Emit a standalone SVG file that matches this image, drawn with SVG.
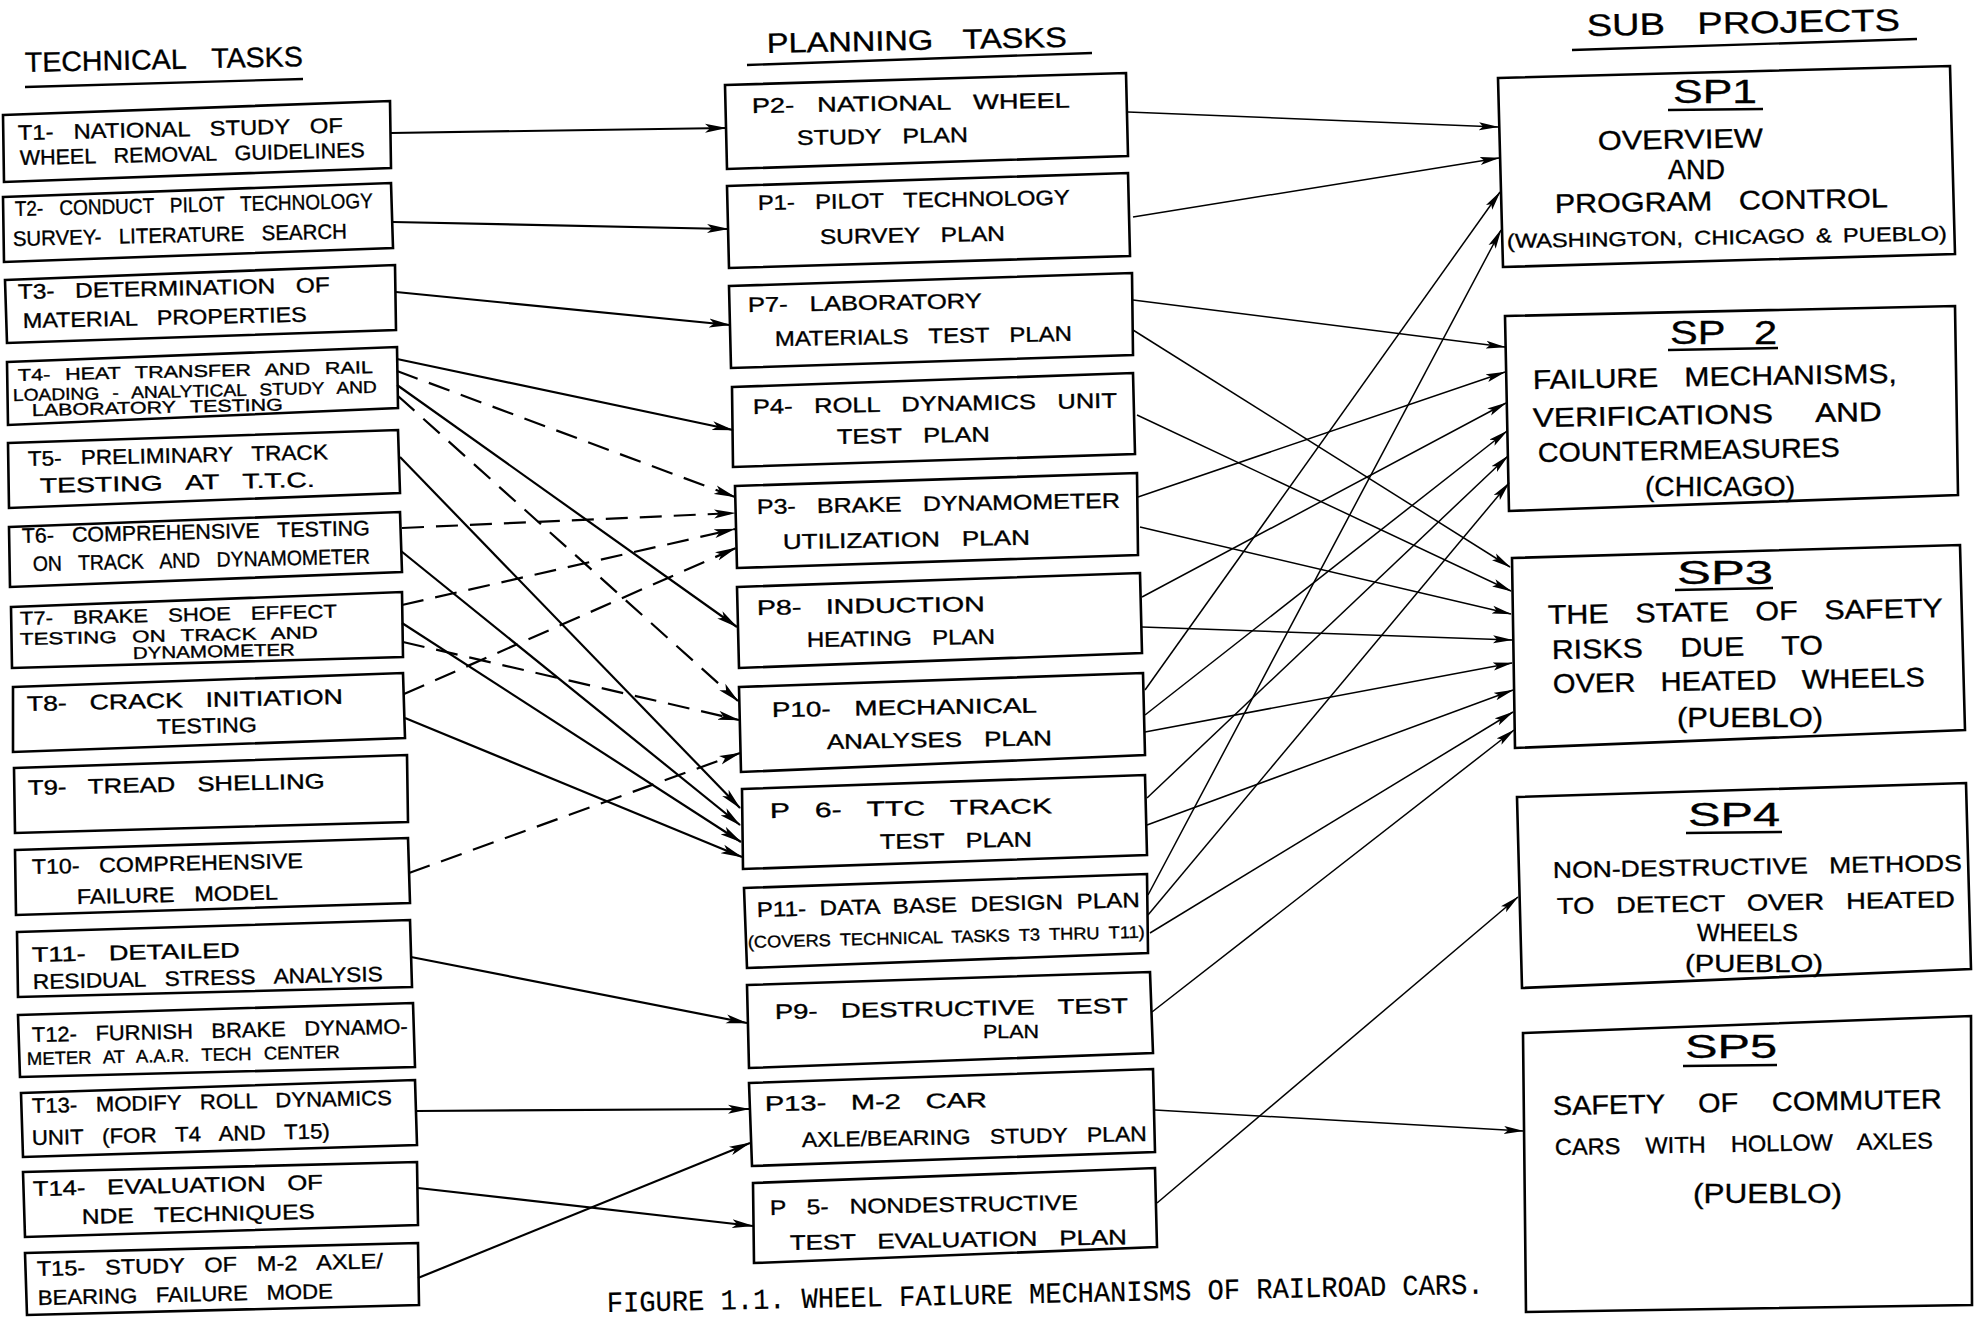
<svg xmlns="http://www.w3.org/2000/svg" width="1975" height="1322" viewBox="0 0 1975 1322">
<defs>
<style>
.bx{fill:none;stroke:#000;stroke-width:2.6;stroke-linejoin:miter}
text{fill:#000;stroke:#000;stroke-width:0.35}
.t{font-family:"Liberation Sans",Arial,sans-serif;font-size:21px;word-spacing:12px}
.ts{font-family:"Liberation Sans",Arial,sans-serif;font-size:17px;word-spacing:7px}
.hd{font-family:"Liberation Sans",Arial,sans-serif;font-size:28px;word-spacing:18px}
.sp{font-family:"Liberation Sans",Arial,sans-serif;font-size:33px}
.sb{font-family:"Liberation Sans",Arial,sans-serif;font-size:27px;word-spacing:16px}
.sm{font-family:"Liberation Sans",Arial,sans-serif;font-size:23px;word-spacing:12px}
.ul{stroke:#000;stroke-width:2.4;fill:none}
.cl{stroke:#000;stroke-width:2.2;fill:none;marker-end:url(#ah)}
.cd{stroke:#000;stroke-width:2.2;fill:none;stroke-dasharray:22 12;marker-end:url(#ah)}
.cr{stroke:#000;stroke-width:1.5;fill:none;marker-end:url(#ah2)}
.cap{font-family:"Liberation Mono","Courier New",monospace;font-size:29px;stroke-width:0.2}
</style>
<marker id="ah" markerUnits="userSpaceOnUse" markerWidth="22" markerHeight="10" viewBox="0 0 22 10" refX="21" refY="5" orient="auto">
<path d="M0,0.5 L22,5 L0,9.5 L5,5 z" fill="#000"/>
</marker>
<marker id="ah2" markerUnits="userSpaceOnUse" markerWidth="20" markerHeight="9" viewBox="0 0 20 9" refX="19" refY="4.5" orient="auto">
<path d="M0,0.5 L20,4.5 L0,8.5 L4,4.5 z" fill="#000"/>
</marker>
</defs>
<rect width="1975" height="1322" fill="#fff"/>

<g id="headings">
<text class="hd" x="25" y="72" textLength="278" lengthAdjust="spacingAndGlyphs" transform="rotate(-1.2 25 72)">TECHNICAL TASKS</text>
<path class="ul" d="M25,87 L303,79"/>
<text class="hd" x="767" y="53" textLength="300" lengthAdjust="spacingAndGlyphs" transform="rotate(-1.2 767 53)">PLANNING TASKS</text>
<path class="ul" d="M747,65 L1092,53"/>
<text class="hd" x="1587" y="36" textLength="313" lengthAdjust="spacingAndGlyphs" style="font-size:31px" transform="rotate(-1 1587 36)">SUB PROJECTS</text>
<path class="ul" d="M1572,50 L1917,39"/>
</g>

<g id="T1"><polygon class="bx" points="3,115 390,101 391,168 4,182"/>
<text class="t" x="18" y="140" textLength="325" lengthAdjust="spacingAndGlyphs" transform="rotate(-1.3 18 140)">T1- NATIONAL STUDY OF</text>
<text class="t" x="20" y="165" textLength="345" lengthAdjust="spacingAndGlyphs" transform="rotate(-1.3 20 165)">WHEEL REMOVAL GUIDELINES</text></g>
<g id="T2"><polygon class="bx" points="3,197 391,183 393,248 4,262"/>
<text class="t" x="15" y="216" textLength="358" lengthAdjust="spacingAndGlyphs" transform="rotate(-1.3 15 216)">T2- CONDUCT PILOT TECHNOLOGY</text>
<text class="t" x="13" y="246" textLength="334" lengthAdjust="spacingAndGlyphs" transform="rotate(-1.3 13 246)">SURVEY- LITERATURE SEARCH</text></g>
<g id="T3"><polygon class="bx" points="5,280 395,265 396,330 7,343"/>
<text class="t" x="18" y="299" textLength="312" lengthAdjust="spacingAndGlyphs" transform="rotate(-1.3 18 299)">T3- DETERMINATION OF</text>
<text class="t" x="23" y="328" textLength="284" lengthAdjust="spacingAndGlyphs" transform="rotate(-1.3 23 328)">MATERIAL PROPERTIES</text></g>
<g id="T4"><polygon class="bx" points="7,362 397,347 398,408 8,425"/>
<text class="ts" x="18" y="381" textLength="355" lengthAdjust="spacingAndGlyphs" transform="rotate(-1.3 18 381)">T4- HEAT TRANSFER AND RAIL</text>
<text class="ts" x="13" y="401" textLength="364" lengthAdjust="spacingAndGlyphs" transform="rotate(-1.3 13 401)">LOADING - ANALYTICAL STUDY AND</text>
<text class="ts" x="32" y="416" textLength="251" lengthAdjust="spacingAndGlyphs" transform="rotate(-1.3 32 416)">LABORATORY TESTING</text></g>
<g id="T5"><polygon class="bx" points="8,443 398,430 400,493 9,508"/>
<text class="t" x="28" y="466" textLength="300" lengthAdjust="spacingAndGlyphs" transform="rotate(-1.3 28 466)">T5- PRELIMINARY TRACK</text>
<text class="t" x="40" y="493" textLength="275" lengthAdjust="spacingAndGlyphs" transform="rotate(-1.3 40 493)">TESTING AT T.T.C.</text></g>
<g id="T6"><polygon class="bx" points="9,527 400,512 402,572 10,587"/>
<text class="t" x="22" y="543" textLength="348" lengthAdjust="spacingAndGlyphs" transform="rotate(-1.3 22 543)">T6- COMPREHENSIVE TESTING</text>
<text class="t" x="33" y="571" textLength="337" lengthAdjust="spacingAndGlyphs" transform="rotate(-1.3 33 571)">ON TRACK AND DYNAMOMETER</text></g>
<g id="T7"><polygon class="bx" points="11,607 402,592 403,657 12,668"/>
<text class="t" x="20" y="625" textLength="317" lengthAdjust="spacingAndGlyphs" style="font-size:19px" transform="rotate(-1.3 20 625)">T7- BRAKE SHOE EFFECT</text>
<text class="ts" x="20" y="645" textLength="298" lengthAdjust="spacingAndGlyphs" transform="rotate(-1.3 20 645)">TESTING ON TRACK AND</text>
<text class="ts" x="133" y="659" textLength="162" lengthAdjust="spacingAndGlyphs" transform="rotate(-1.3 133 659)">DYNAMOMETER</text></g>
<g id="T8"><polygon class="bx" points="13,687 403,673 405,738 13,752"/>
<text class="t" x="27" y="711" textLength="316" lengthAdjust="spacingAndGlyphs" transform="rotate(-1.3 27 711)">T8- CRACK INITIATION</text>
<text class="t" x="157" y="734" textLength="100" lengthAdjust="spacingAndGlyphs" transform="rotate(-1.3 157 734)">TESTING</text></g>
<g id="T9"><polygon class="bx" points="14,768 407,755 408,822 15,833"/>
<text class="t" x="28" y="795" textLength="297" lengthAdjust="spacingAndGlyphs" transform="rotate(-1.3 28 795)">T9- TREAD SHELLING</text></g>
<g id="T10"><polygon class="bx" points="15,850 408,838 410,903 16,915"/>
<text class="t" x="32" y="874" textLength="271" lengthAdjust="spacingAndGlyphs" transform="rotate(-1.3 32 874)">T10- COMPREHENSIVE</text>
<text class="t" x="77" y="904" textLength="201" lengthAdjust="spacingAndGlyphs" transform="rotate(-1.3 77 904)">FAILURE MODEL</text></g>
<g id="T11"><polygon class="bx" points="17,932 410,920 412,987 18,997"/>
<text class="t" x="32" y="962" textLength="208" lengthAdjust="spacingAndGlyphs" transform="rotate(-1.3 32 962)">T11- DETAILED</text>
<text class="t" x="33" y="989" textLength="350" lengthAdjust="spacingAndGlyphs" transform="rotate(-1.3 33 989)">RESIDUAL STRESS ANALYSIS</text></g>
<g id="T12"><polygon class="bx" points="18,1015 413,1003 415,1067 20,1077"/>
<text class="t" x="32" y="1042" textLength="376" lengthAdjust="spacingAndGlyphs" transform="rotate(-1.3 32 1042)">T12- FURNISH BRAKE DYNAMO-</text>
<text class="ts" x="27" y="1065" textLength="313" lengthAdjust="spacingAndGlyphs" style="font-size:18px" transform="rotate(-1.3 27 1065)">METER AT A.A.R. TECH CENTER</text></g>
<g id="T13"><polygon class="bx" points="21,1093 415,1080 417,1145 23,1157"/>
<text class="t" x="32" y="1113" textLength="360" lengthAdjust="spacingAndGlyphs" transform="rotate(-1.3 32 1113)">T13- MODIFY ROLL DYNAMICS</text>
<text class="t" x="32" y="1145" textLength="298" lengthAdjust="spacingAndGlyphs" transform="rotate(-1.3 32 1145)">UNIT (FOR T4 AND T15)</text></g>
<g id="T14"><polygon class="bx" points="23,1172 417,1162 418,1225 25,1237"/>
<text class="t" x="33" y="1196" textLength="290" lengthAdjust="spacingAndGlyphs" transform="rotate(-1.3 33 1196)">T14- EVALUATION OF</text>
<text class="t" x="82" y="1224" textLength="233" lengthAdjust="spacingAndGlyphs" transform="rotate(-1.3 82 1224)">NDE TECHNIQUES</text></g>
<g id="T15"><polygon class="bx" points="25,1253 418,1243 419,1305 27,1315"/>
<text class="t" x="37" y="1276" textLength="346" lengthAdjust="spacingAndGlyphs" transform="rotate(-1.3 37 1276)">T15- STUDY OF M-2 AXLE/</text>
<text class="t" x="38" y="1305" textLength="295" lengthAdjust="spacingAndGlyphs" transform="rotate(-1.3 38 1305)">BEARING FAILURE MODE</text></g>

<g id="P2"><polygon class="bx" points="725,85 1126,73 1128,156 727,169"/>
<text class="t" x="752" y="113" textLength="318" lengthAdjust="spacingAndGlyphs" transform="rotate(-1 752 113)">P2- NATIONAL WHEEL</text>
<text class="t" x="797" y="145" textLength="171" lengthAdjust="spacingAndGlyphs" transform="rotate(-1 797 145)">STUDY PLAN</text></g>
<g id="P1"><polygon class="bx" points="727,186 1128,173 1130,256 729,268"/>
<text class="t" x="758" y="210" textLength="312" lengthAdjust="spacingAndGlyphs" transform="rotate(-1 758 210)">P1- PILOT TECHNOLOGY</text>
<text class="t" x="820" y="244" textLength="185" lengthAdjust="spacingAndGlyphs" transform="rotate(-1 820 244)">SURVEY PLAN</text></g>
<g id="P7"><polygon class="bx" points="729,286 1132,273 1133,355 731,368"/>
<text class="t" x="748" y="312" textLength="234" lengthAdjust="spacingAndGlyphs" transform="rotate(-1 748 312)">P7- LABORATORY</text>
<text class="t" x="775" y="346" textLength="297" lengthAdjust="spacingAndGlyphs" transform="rotate(-1 775 346)">MATERIALS TEST PLAN</text></g>
<g id="P4"><polygon class="bx" points="732,387 1133,373 1135,454 733,467"/>
<text class="t" x="753" y="414" textLength="364" lengthAdjust="spacingAndGlyphs" transform="rotate(-1 753 414)">P4- ROLL DYNAMICS UNIT</text>
<text class="t" x="837" y="444" textLength="153" lengthAdjust="spacingAndGlyphs" transform="rotate(-1 837 444)">TEST PLAN</text></g>
<g id="P3"><polygon class="bx" points="735,486 1137,473 1138,555 737,568"/>
<text class="t" x="757" y="514" textLength="363" lengthAdjust="spacingAndGlyphs" transform="rotate(-1 757 514)">P3- BRAKE DYNAMOMETER</text>
<text class="t" x="783" y="549" textLength="247" lengthAdjust="spacingAndGlyphs" transform="rotate(-1 783 549)">UTILIZATION PLAN</text></g>
<g id="P8"><polygon class="bx" points="737,587 1140,573 1142,653 739,668"/>
<text class="t" x="757" y="615" textLength="228" lengthAdjust="spacingAndGlyphs" transform="rotate(-1 757 615)">P8- INDUCTION</text>
<text class="t" x="807" y="647" textLength="188" lengthAdjust="spacingAndGlyphs" transform="rotate(-1 807 647)">HEATING PLAN</text></g>
<g id="P10"><polygon class="bx" points="739,687 1143,673 1145,755 741,772"/>
<text class="t" x="772" y="717" textLength="265" lengthAdjust="spacingAndGlyphs" transform="rotate(-1 772 717)">P10- MECHANICAL</text>
<text class="t" x="827" y="749" textLength="225" lengthAdjust="spacingAndGlyphs" transform="rotate(-1 827 749)">ANALYSES PLAN</text></g>
<g id="P6"><polygon class="bx" points="742,789 1145,775 1147,855 743,869"/>
<text class="t" x="770" y="818" textLength="282" lengthAdjust="spacingAndGlyphs" transform="rotate(-1 770 818)">P 6- TTC TRACK</text>
<text class="t" x="880" y="849" textLength="152" lengthAdjust="spacingAndGlyphs" transform="rotate(-1 880 849)">TEST PLAN</text></g>
<g id="P11"><polygon class="bx" points="744,888 1147,874 1148,953 747,968"/>
<text class="t" x="757" y="917" textLength="383" lengthAdjust="spacingAndGlyphs" style="word-spacing:6px" transform="rotate(-1.5 757 917)">P11- DATA BASE DESIGN PLAN</text>
<text class="ts" x="748" y="948" textLength="397" lengthAdjust="spacingAndGlyphs" style="word-spacing:4px" transform="rotate(-1.5 748 948)">(COVERS TECHNICAL TASKS T3 THRU T11)</text></g>
<g id="P9"><polygon class="bx" points="747,985 1150,972 1153,1053 749,1068"/>
<text class="t" x="775" y="1019" textLength="353" lengthAdjust="spacingAndGlyphs" transform="rotate(-1 775 1019)">P9- DESTRUCTIVE TEST</text>
<text class="t" x="983" y="1038" textLength="56" lengthAdjust="spacingAndGlyphs" style="font-size:19px">PLAN</text></g>
<g id="P13"><polygon class="bx" points="749,1083 1153,1069 1155,1152 752,1166"/>
<text class="t" x="765" y="1111" textLength="222" lengthAdjust="spacingAndGlyphs" transform="rotate(-1 765 1111)">P13- M-2 CAR</text>
<text class="t" x="802" y="1147" textLength="345" lengthAdjust="spacingAndGlyphs" transform="rotate(-1 802 1147)">AXLE/BEARING STUDY PLAN</text></g>
<g id="P5"><polygon class="bx" points="753,1183 1155,1168 1157,1247 754,1263"/>
<text class="t" x="770" y="1215" textLength="308" lengthAdjust="spacingAndGlyphs" transform="rotate(-1 770 1215)">P 5- NONDESTRUCTIVE</text>
<text class="t" x="790" y="1250" textLength="337" lengthAdjust="spacingAndGlyphs" transform="rotate(-1 790 1250)">TEST EVALUATION PLAN</text></g>

<g id="SP1"><polygon class="bx" points="1498,78 1950,66 1955,254 1503,267"/>
<text class="sp" x="1673" y="103" textLength="84" lengthAdjust="spacingAndGlyphs">SP1</text>
<path class="ul" d="M1668,110 L1763,109"/>
<text class="sb" x="1598" y="150" textLength="165" lengthAdjust="spacingAndGlyphs" transform="rotate(-1 1598 150)">OVERVIEW</text>
<text class="sb" x="1668" y="179" textLength="57" lengthAdjust="spacingAndGlyphs">AND</text>
<text class="sb" x="1555" y="213" textLength="333" lengthAdjust="spacingAndGlyphs" transform="rotate(-1 1555 213)">PROGRAM CONTROL</text>
<text class="sm" x="1507" y="248" textLength="440" lengthAdjust="spacingAndGlyphs" style="font-size:20px;word-spacing:4px" transform="rotate(-1 1507 248)">(WASHINGTON, CHICAGO &amp; PUEBLO)</text></g>
<g id="SP2"><polygon class="bx" points="1505,316 1955,306 1958,495 1509,511"/>
<text class="sp" x="1670" y="344" textLength="107" lengthAdjust="spacingAndGlyphs" style="word-spacing:14px">SP 2</text>
<path class="ul" d="M1668,350 L1778,348"/>
<text class="sb" x="1533" y="389" textLength="364" lengthAdjust="spacingAndGlyphs" transform="rotate(-1 1533 389)">FAILURE MECHANISMS,</text>
<text class="sb" x="1533" y="427" textLength="349" lengthAdjust="spacingAndGlyphs" style="word-spacing:30px" transform="rotate(-1 1533 427)">VERIFICATIONS AND</text>
<text class="sb" x="1538" y="462" textLength="302" lengthAdjust="spacingAndGlyphs" transform="rotate(-1 1538 462)">COUNTERMEASURES</text>
<text class="sb" x="1645" y="496" textLength="150" lengthAdjust="spacingAndGlyphs">(CHICAGO)</text></g>
<g id="SP3"><polygon class="bx" points="1512,558 1960,545 1965,730 1515,748"/>
<text class="sp" x="1677" y="584" textLength="96" lengthAdjust="spacingAndGlyphs">SP3</text>
<path class="ul" d="M1675,590 L1773,588"/>
<text class="sb" x="1548" y="624" textLength="395" lengthAdjust="spacingAndGlyphs" transform="rotate(-1 1548 624)">THE STATE OF SAFETY</text>
<text class="sb" x="1552" y="659" textLength="271" lengthAdjust="spacingAndGlyphs" style="word-spacing:26px" transform="rotate(-1 1552 659)">RISKS DUE TO</text>
<text class="sb" x="1553" y="693" textLength="372" lengthAdjust="spacingAndGlyphs" transform="rotate(-1 1553 693)">OVER HEATED WHEELS</text>
<text class="sb" x="1677" y="727" textLength="146" lengthAdjust="spacingAndGlyphs">(PUEBLO)</text></g>
<g id="SP4"><polygon class="bx" points="1517,797 1966,783 1971,969 1522,988"/>
<text class="sp" x="1688" y="826" textLength="92" lengthAdjust="spacingAndGlyphs">SP4</text>
<path class="ul" d="M1686,833 L1782,832"/>
<text class="sm" x="1553" y="878" textLength="409" lengthAdjust="spacingAndGlyphs" transform="rotate(-1 1553 878)">NON-DESTRUCTIVE METHODS</text>
<text class="sm" x="1557" y="914" textLength="398" lengthAdjust="spacingAndGlyphs" transform="rotate(-1 1557 914)">TO DETECT OVER HEATED</text>
<text class="sm" x="1697" y="941" textLength="101" lengthAdjust="spacingAndGlyphs">WHEELS</text>
<text class="sm" x="1685" y="972" textLength="138" lengthAdjust="spacingAndGlyphs">(PUEBLO)</text></g>
<g id="SP5"><polygon class="bx" points="1523,1033 1971,1016 1972,1305 1526,1312"/>
<text class="sp" x="1685" y="1058" textLength="92" lengthAdjust="spacingAndGlyphs">SP5</text>
<path class="ul" d="M1683,1066 L1777,1065"/>
<text class="sb" x="1553" y="1115" textLength="389" lengthAdjust="spacingAndGlyphs" style="word-spacing:24px" transform="rotate(-1 1553 1115)">SAFETY OF COMMUTER</text>
<text class="sm" x="1555" y="1155" textLength="378" lengthAdjust="spacingAndGlyphs" style="word-spacing:18px" transform="rotate(-1 1555 1155)">CARS WITH HOLLOW AXLES</text>
<text class="sb" x="1693" y="1203" textLength="149" lengthAdjust="spacingAndGlyphs">(PUEBLO)</text></g>

<g id="connectors">
<line class="cl" x1="391" y1="133" x2="726" y2="128"/>
<line class="cl" x1="393" y1="222" x2="728" y2="229"/>
<line class="cl" x1="396" y1="292" x2="730" y2="325"/>
<line class="cl" x1="397" y1="359" x2="733" y2="430"/>
<line class="cd" x1="397" y1="371" x2="735" y2="497"/>
<line class="cl" x1="397" y1="385" x2="737" y2="627"/>
<line class="cd" x1="398" y1="396" x2="738" y2="701"/>
<line class="cl" x1="400" y1="457" x2="740" y2="808"/>
<line class="cd" x1="402" y1="528" x2="735" y2="513"/>
<line class="cl" x1="401" y1="551" x2="740" y2="825"/>
<line class="cd" x1="402" y1="605" x2="735" y2="529"/>
<line class="cl" x1="402" y1="623" x2="741" y2="842"/>
<line class="cd" x1="403" y1="642" x2="739" y2="720"/>
<line class="cd" x1="404" y1="694" x2="736" y2="548"/>
<line class="cl" x1="405" y1="718" x2="742" y2="857"/>
<line class="cd" x1="409" y1="873" x2="740" y2="753"/>
<line class="cl" x1="411" y1="957" x2="747" y2="1023"/>
<line class="cl" x1="416" y1="1111" x2="749" y2="1109"/>
<line class="cl" x1="418" y1="1278" x2="750" y2="1143"/>
<line class="cl" x1="418" y1="1188" x2="753" y2="1226"/>

<line class="cr" x1="1128" y1="112" x2="1498" y2="127"/>
<line class="cr" x1="1133" y1="217" x2="1499" y2="158"/>
<line class="cr" x1="1145" y1="690" x2="1500" y2="192"/>
<line class="cr" x1="1148" y1="895" x2="1501" y2="230"/>
<line class="cr" x1="1133" y1="300" x2="1505" y2="347"/>
<line class="cr" x1="1138" y1="497" x2="1505" y2="372"/>
<line class="cr" x1="1142" y1="597" x2="1506" y2="403"/>
<line class="cr" x1="1145" y1="715" x2="1507" y2="431"/>
<line class="cr" x1="1147" y1="798" x2="1508" y2="456"/>
<line class="cr" x1="1148" y1="915" x2="1509" y2="483"/>
<line class="cr" x1="1133" y1="330" x2="1510" y2="567"/>
<line class="cr" x1="1137" y1="415" x2="1511" y2="591"/>
<line class="cr" x1="1140" y1="527" x2="1511" y2="614"/>
<line class="cr" x1="1142" y1="627" x2="1512" y2="640"/>
<line class="cr" x1="1145" y1="732" x2="1512" y2="663"/>
<line class="cr" x1="1147" y1="825" x2="1513" y2="690"/>
<line class="cr" x1="1150" y1="933" x2="1513" y2="712"/>
<line class="cr" x1="1152" y1="1012" x2="1514" y2="730"/>
<line class="cr" x1="1157" y1="1203" x2="1518" y2="897"/>
<line class="cr" x1="1155" y1="1110" x2="1523" y2="1131"/>
</g>

<g id="caption">
<text class="cap" x="607" y="1312" textLength="877" lengthAdjust="spacingAndGlyphs" transform="rotate(-1.2 607 1312)">FIGURE 1.1.  WHEEL FAILURE MECHANISMS OF RAILROAD CARS.</text>
</g>
</svg>
